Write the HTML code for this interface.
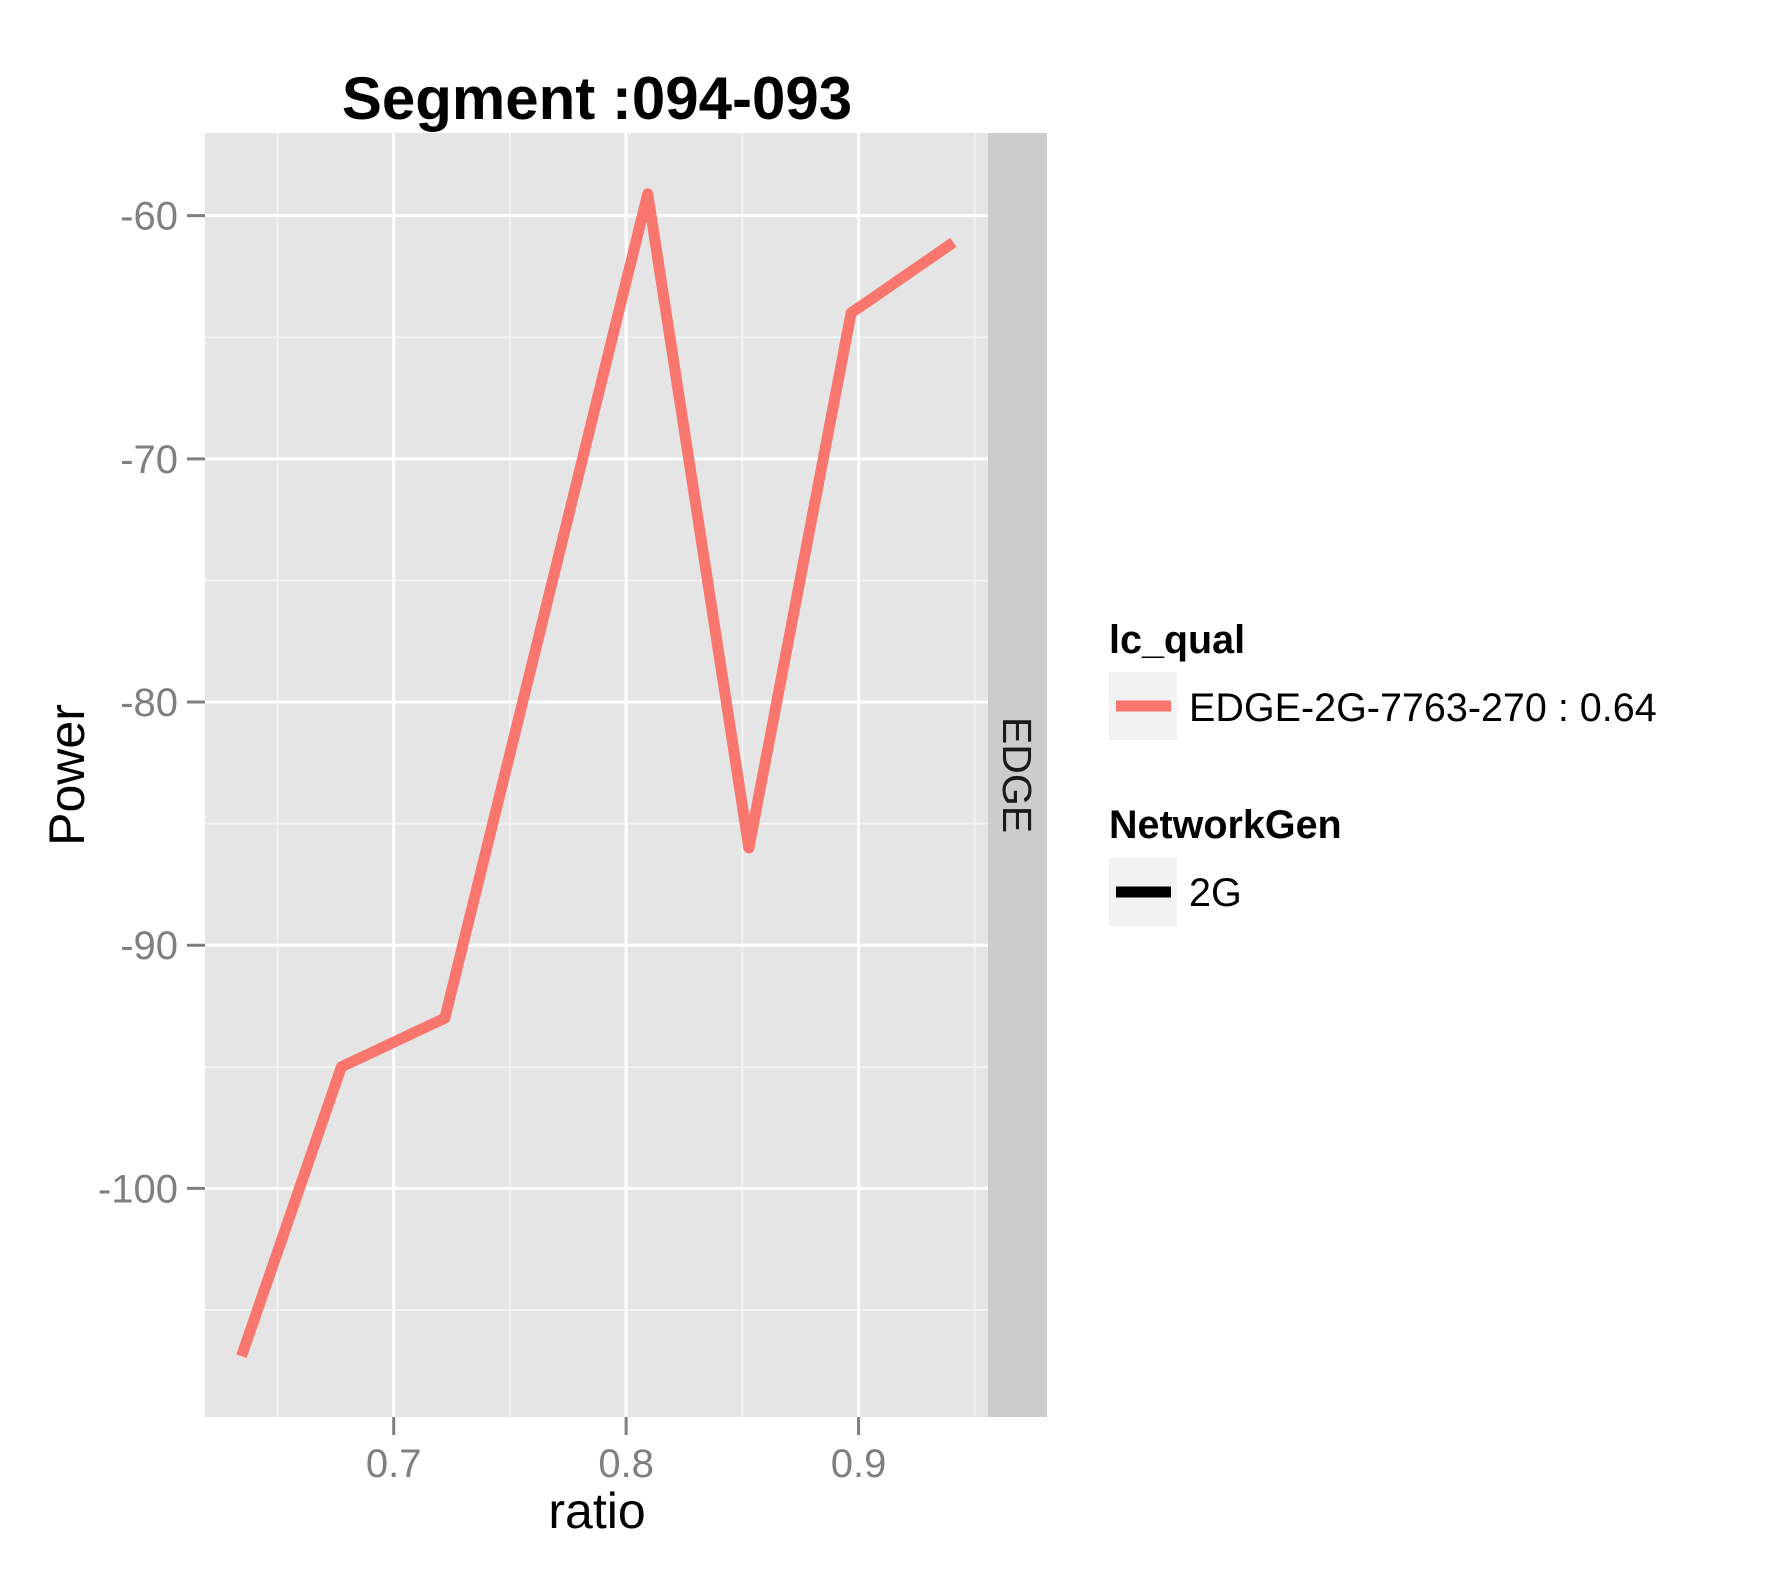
<!DOCTYPE html>
<html><head><meta charset="utf-8"><style>
html,body{margin:0;padding:0;background:#fff;}
svg{display:block;font-family:"Liberation Sans",Arial,sans-serif;}
</style></head><body>
<svg id="chart" width="1779" height="1574" viewBox="0 0 1779 1574">
<text x="597" y="119" text-anchor="middle" font-size="60" font-weight="bold">Segment :094-093</text>
<rect x="205" y="133" width="783" height="1284" fill="#e5e5e5"/>
<g id="grid"></g>
<g id="axes"></g>
<polyline id="series" fill="none" stroke="#F8766D" stroke-width="11" stroke-linejoin="round"/>
<rect x="988" y="133" width="59" height="1284" fill="#cccccc"/>
<text transform="translate(1003,775) rotate(90)" text-anchor="middle" font-size="41" fill="#1a1a1a">EDGE</text>
<text x="597" y="1528" text-anchor="middle" font-size="50">ratio</text>
<text transform="translate(84,775) rotate(-90)" text-anchor="middle" font-size="50">Power</text>
<g>
<text x="1109" y="653" font-size="39.5" font-weight="bold">lc_qual</text>
<rect x="1109" y="672" width="68" height="68" fill="#f2f2f2"/>
<line x1="1116" y1="706" x2="1171" y2="706" stroke="#F8766D" stroke-width="11"/>
<text x="1189" y="721" font-size="39.5">EDGE-2G-7763-270 : 0.64</text>
<text x="1109" y="838" font-size="39.5" font-weight="bold">NetworkGen</text>
<rect x="1109" y="858" width="68" height="68" fill="#f2f2f2"/>
<line x1="1116" y1="892" x2="1171" y2="892" stroke="#000" stroke-width="11"/>
<text x="1189" y="906" font-size="39.5">2G</text>
</g>
</svg>
<script>
const ratios = [0.6345, 0.6775, 0.722, 0.8093, 0.8528, 0.8968, 0.9408];
const powers = [-106.9, -95.0, -93.0, -59.1, -86.0, -64.0, -61.1];
const xTicks = [0.7, 0.8, 0.9];
const xTickLabels = ["0.7", "0.8", "0.9"];
const xMinor = [0.65, 0.75, 0.85, 0.95];
const yTicks = [-60, -70, -80, -90, -100];
const yTickLabels = ["-60", "-70", "-80", "-90", "-100"];
const yMinor = [-65, -75, -85, -95, -105];

const X0 = 205, X1 = 988, Y0 = 133, Y1 = 1417;
const xDom = [0.6188, 0.9557], yDom = [-109.4, -56.6];
function sx(v){ return X0 + (v - xDom[0]) / (xDom[1] - xDom[0]) * (X1 - X0); }
function sy(v){ return Y1 - (v - yDom[0]) / (yDom[1] - yDom[0]) * (Y1 - Y0); }
const NS = "http://www.w3.org/2000/svg";
const grid = document.getElementById('grid'), axes = document.getElementById('axes');
function mk(tag, attrs, parent){ const e = document.createElementNS(NS, tag); for (const k in attrs) e.setAttribute(k, attrs[k]); parent.appendChild(e); return e; }

xMinor.forEach(v => {
  const l = mk('line', {x1:sx(v), x2:sx(v), y1:Y0, y2:Y1, stroke:'#f2f2f2', 'stroke-width':2}, grid);
  
  
});
yMinor.forEach(v => {
  const l = mk('line', {x1:X0, x2:X1, y1:sy(v), y2:sy(v), stroke:'#f2f2f2', 'stroke-width':2}, grid);
  
  
});
xTicks.forEach((v, i) => {
  const l = mk('line', {x1:sx(v), x2:sx(v), y1:Y0, y2:Y1, stroke:'#fff', 'stroke-width':3}, grid);
  
  
  const t = mk('line', {x1:sx(v), x2:sx(v), y1:Y1, y2:Y1+18, stroke:'#7f7f7f', 'stroke-width':3}, axes);
  
  
  const tx = mk('text', {x:sx(v), y:1477, 'text-anchor':'middle', 'font-size':40, fill:'#7f7f7f'}, axes);
  tx.textContent = xTickLabels[i];
  
  
});
yTicks.forEach((v, i) => {
  const l = mk('line', {x1:X0, x2:X1, y1:sy(v), y2:sy(v), stroke:'#fff', 'stroke-width':3}, grid);
  
  
  const t = mk('line', {x1:X0-18, x2:X0, y1:sy(v), y2:sy(v), stroke:'#7f7f7f', 'stroke-width':3}, axes);
  
  
  const tx = mk('text', {x:178, y:sy(v)+14, 'text-anchor':'end', 'font-size':40, fill:'#7f7f7f'}, axes);
  tx.textContent = yTickLabels[i];
  
  
});
document.getElementById('series').setAttribute('points', ratios.map((r, i) => sx(r) + ',' + sy(powers[i])).join(' '));
</script>
</body></html>
